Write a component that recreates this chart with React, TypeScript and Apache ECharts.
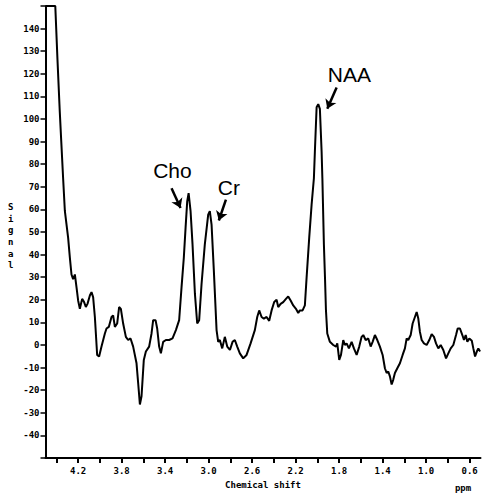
import React, { useEffect, useRef } from "react";
import * as echarts from "echarts";

// chemical shift (ppm) and signal values
const ppm = [
  4.5, 4.41, 4.39, 4.37, 4.355, 4.338, 4.322, 4.292, 4.276, 4.261, 4.246, 4.23, 4.215, 4.2, 4.184,
  4.163, 4.145, 4.129, 4.114, 4.092, 4.077, 4.062, 4.046, 4.025, 4.007, 3.985, 3.954, 3.939, 3.918,
  3.893, 3.878, 3.862, 3.841, 3.823, 3.807, 3.786, 3.761, 3.74, 3.718, 3.694, 3.663, 3.648, 3.632,
  3.617, 3.596, 3.577, 3.547, 3.525, 3.51, 3.488, 3.473, 3.455, 3.439, 3.418, 3.393, 3.363, 3.332,
  3.301, 3.271, 3.249, 3.228, 3.212, 3.197, 3.184, 3.166, 3.148, 3.126, 3.105, 3.087, 3.065, 3.035,
  3.004, 2.989, 2.973, 2.952, 2.927, 2.912, 2.897, 2.875, 2.851, 2.829, 2.804, 2.78, 2.759, 2.737,
  2.713, 2.682, 2.651, 2.614, 2.575, 2.553, 2.535, 2.513, 2.492, 2.467, 2.443, 2.421, 2.397, 2.375,
  2.36, 2.338, 2.314, 2.289, 2.268, 2.246, 2.222, 2.197, 2.176, 2.161, 2.136, 2.115, 2.099, 2.075,
  2.053, 2.032, 2.023, 2.007, 1.992, 1.977, 1.961, 1.954, 1.94, 1.93, 1.921, 1.909, 1.885, 1.854,
  1.829, 1.817, 1.799, 1.783, 1.762, 1.747, 1.731, 1.71, 1.685, 1.664, 1.639, 1.615, 1.593, 1.578,
  1.556, 1.532, 1.51, 1.492, 1.471, 1.449, 1.425, 1.4, 1.379, 1.363, 1.348, 1.333, 1.317, 1.302,
  1.287, 1.265, 1.241, 1.216, 1.195, 1.179, 1.164, 1.142, 1.124, 1.103, 1.087, 1.072, 1.057, 1.041,
  1.02, 0.995, 0.971, 0.949, 0.928, 0.909, 0.888, 0.866, 0.842, 0.817, 0.796, 0.774, 0.75, 0.725,
  0.71, 0.689, 0.667, 0.652, 0.636, 0.621, 0.603, 0.58, 0.566, 0.55, 0.534, 0.52, 0.504,
];
const signal = [
  150, 150, 126.4, 104.5, 90.0, 73.8, 59.3, 47.5, 38.7, 31.2, 29.1, 31.2, 25.6, 19.7, 16.0,
  20.4, 19.0, 16.8, 18.2, 21.9, 23.4, 21.2, 12.4, -4.4, -5.1, -0.7, 5.1, 7.3, 8.0,
  12.4, 13.1, 8.0, 9.5, 16.8, 16.0, 9.5, 3.6, 2.2, 2.9, -0.7, -8.1, -16.8, -26.3,
  -22.7, -6.6, -2.9, -0.7, 5.1, 11.0, 11.0, 7.3, -0.7, -3.7, 1.4, 2.2, 2.2, 2.9,
  6.6, 11.0, 25.6, 38.7, 51.8, 63.5, 67.2, 59.2, 44.5, 22.6, 9.5, 11.0, 27.0, 44.5,
  57.7, 59.2, 53.3, 32.9, 6.6, 1.4, 2.2, -1.5, 3.6, -0.7, -2.2, 1.4, 2.2, -0.7,
  -3.7, -5.9, -4.4, 0.7, 6.6, 12.4, 15.3, 12.4, 11.7, 12.4, 10.7, 15.3, 19.0, 20.0,
  16.8, 18.2, 19.0, 20.4, 21.5, 19.7, 17.5, 16.0, 14.2, 15.3, 15.3, 17.5, 29.9, 47.5,
  62.1, 73.8, 85.5, 105.2, 106.6, 104.5, 85.5, 73.8, 44.5, 29.9, 15.3, 5.1, 1.4, 0.0,
  -0.7, 0.7, -6.6, -4.4, 2.2, 0.0, 0.7, -1.5, 1.4, -1.5, -4.4, -0.7, 3.6, 4.4,
  2.2, 2.9, -0.7, 1.4, 4.4, 2.2, -0.7, -4.4, -10.3, -12.4, -11.7, -13.9, -17.5, -15.3,
  -12.4, -10.3, -8.1, -4.4, -1.5, 2.9, 2.2, 4.4, 9.5, 12.4, 14.6, 11.7, 5.8, 2.2,
  0.7, 0.0, 2.2, 4.8, 3.6, 0.7, -1.5, 0.0, -2.2, -5.9, -3.7, -1.5, 0.0, 4.4,
  7.3, 7.3, 4.4, 2.2, 4.4, 1.4, 2.9, 1.9, -1.5, -5.1, -2.9, -1.5, -2.9,
];

const xTickValues = [4.4, 4.2, 4.0, 3.8, 3.6, 3.4, 3.2, 3.0, 2.8, 2.6, 2.4, 2.2, 2.0, 1.8, 1.6, 1.4, 1.2, 1.0, 0.8, 0.6];
const xLabelValues = [4.2, 3.8, 3.4, 3.0, 2.6, 2.2, 1.8, 1.4, 1.0, 0.6];

// peak annotations: label position and arrow (start -> end) in data coordinates
const peakNames = ["Cho", "Cr", "NAA"];
const labelPos = [
  [3.333, 77.3],
  [2.814, 69.8],
  [1.705, 119.8],
];
const arrowFrom = [
  [3.341, 69.4],
  [2.841, 64.3],
  [1.823, 113.9],
];
const arrowTo = [
  [3.258, 60.6],
  [2.906, 55.1],
  [1.909, 104.5],
];

const axisFont = "'DejaVu Sans Mono', monospace";

export default function App() {
  const ref = useRef<HTMLDivElement>(null);
  useEffect(() => {
    document.body.style.margin = "0";
    const chart = echarts.init(ref.current!, null, { renderer: "svg" });
    const data = ppm.map((p, i) => [p, signal[i]]);
    chart.setOption({
      animation: false,
      backgroundColor: "#fff",
      grid: { left: 45.5, right: 3.5, top: 6, bottom: 31.6, containLabel: false },
      xAxis: {
        type: "value",
        inverse: true,
        min: 0.5,
        max: 4.5,
        name: "Chemical shift",
        nameLocation: "middle",
        nameGap: 22,
        nameTextStyle: { fontFamily: axisFont, fontWeight: "bold", fontSize: 9, color: "#000" },
        axisLine: { show: true, onZero: false, lineStyle: { color: "#000", width: 2 } },
        axisTick: { show: true, length: 5, customValues: xTickValues, lineStyle: { color: "#000", width: 2 } },
        axisLabel: {
          customValues: xLabelValues,
          formatter: (v: number) => v.toFixed(1),
          fontFamily: axisFont,
          fontWeight: "bold",
          fontSize: 9,
          color: "#000",
          margin: 8,
        },
        splitLine: { show: false },
      },
      yAxis: {
        type: "value",
        min: -50,
        max: 150,
        interval: 10,
        axisLine: { show: true, onZero: false, lineStyle: { color: "#000", width: 2 } },
        axisTick: { show: true, length: 5, lineStyle: { color: "#000", width: 1.5 } },
        axisLabel: {
          formatter: (v: number) => (v === 150 || v === -50 ? "" : String(v)),
          fontFamily: axisFont,
          fontWeight: "bold",
          fontSize: 9,
          color: "#000",
          margin: 6,
        },
        splitLine: { show: false },
      },
      graphic: [
        {
          type: "text",
          left: 8,
          top: 201,
          style: {
            text: "S\ni\ng\nn\na\nl",
            fontFamily: axisFont,
            fontWeight: "bold",
            fontSize: 9,
            lineHeight: 11.7,
            fill: "#000",
            align: "center",
          },
        },
        {
          type: "text",
          x: 463,
          y: 488,
          style: {
            text: "ppm",
            fontFamily: axisFont,
            fontWeight: "bold",
            fontSize: 9,
            fill: "#000",
            align: "center",
            verticalAlign: "middle",
          },
        },
      ],
      series: [
        {
          type: "line",
          data,
          showSymbol: false,
          symbol: "none",
          clip: true,
          lineStyle: { color: "#000", width: 2 },
          silent: true,
          markLine: {
            silent: true,
            animation: false,
            symbol: ["none", "arrow"],
            symbolSize: [0, 9],
            label: { show: false },
            lineStyle: { color: "#000", width: 2.5, type: "solid" },
            data: arrowFrom.map((s, i) => [
              { coord: s, symbol: "none" },
              { coord: arrowTo[i], symbol: "arrow", symbolSize: 9 },
            ]),
          },
          markPoint: {
            silent: true,
            animation: false,
            symbol: "circle",
            symbolSize: 1,
            itemStyle: { color: "transparent" },
            data: peakNames.map((n, i) => ({
              coord: labelPos[i],
              label: {
                show: true,
                position: "inside",
                formatter: n,
                fontFamily: "'Liberation Sans', Arial, sans-serif",
                fontSize: 21,
                color: "#000",
              },
            })),
          },
        },
      ],
    });
    return () => chart.dispose();
  }, []);
  return <div ref={ref} style={{ width: 484, height: 494 }} />;
}
